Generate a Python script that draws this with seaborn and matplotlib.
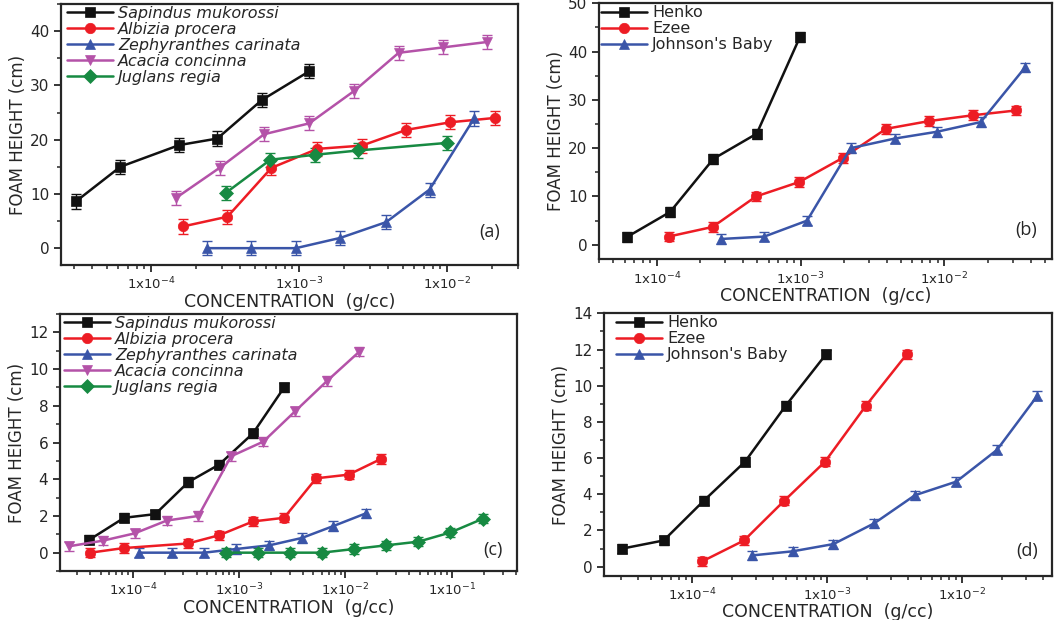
import numpy as np
import pandas as pd
import matplotlib
matplotlib.use("Agg")
import matplotlib.pyplot as plt
import matplotlib.ticker as mticker
import seaborn as sns

# ---- data ----
plants = ["Sapindus mukorossi", "Albizia procera", "Zephyranthes carinata",
          "Acacia concinna", "Juglans regia"]
soaps = ["Henko", "Ezee", "Johnson's Baby"]

# (a) plant extracts
a_sap_x = [3.1e-5, 6.2e-5, 1.55e-4, 2.8e-4, 5.6e-4, 1.17e-3]
a_sap_y = [8.6, 15.0, 19.0, 20.2, 27.3, 32.6]
a_alb_x = [1.64e-4, 3.28e-4, 6.5e-4, 1.33e-3, 2.65e-3, 5.3e-3, 1.05e-2, 2.1e-2]
a_alb_y = [4.0, 5.8, 14.8, 18.3, 18.9, 21.8, 23.2, 24.0]
a_zep_x = [2.38e-4, 4.74e-4, 9.5e-4, 1.9e-3, 3.87e-3, 7.6e-3, 1.52e-2]
a_zep_y = [0.0, 0.0, 0.0, 1.9, 4.8, 10.8, 23.9]
a_aca_x = [1.48e-4, 2.9e-4, 5.8e-4, 1.17e-3, 2.36e-3, 4.7e-3, 9.4e-3, 1.87e-2]
a_aca_y = [9.3, 14.8, 21.0, 23.0, 29.0, 36.0, 37.0, 38.0]
a_jug_x = [3.2e-4, 6.4e-4, 1.27e-3, 2.5e-3, 1.0e-2]
a_jug_y = [10.2, 16.3, 17.2, 18.0, 19.4]

# (b) commercial soaps
b_hen_x = [6.2e-5, 1.24e-4, 2.48e-4, 4.96e-4, 9.9e-4]
b_hen_y = [1.6, 6.8, 17.8, 23.0, 43.0]
b_eze_x = [1.21e-4, 2.45e-4, 4.9e-4, 9.8e-4, 1.97e-3, 3.93e-3, 7.8e-3, 1.57e-2, 3.14e-2]
b_eze_y = [1.7, 3.7, 10.0, 13.0, 18.0, 24.0, 25.6, 26.8, 27.8]
b_joh_x = [2.79e-4, 5.6e-4, 1.11e-3, 2.23e-3, 4.54e-3, 8.9e-3, 1.79e-2, 3.64e-2]
b_joh_y = [1.2, 1.7, 5.0, 20.0, 22.0, 23.4, 25.4, 36.7]

# (c) plant extracts
c_sap_x = [3.9e-5, 8.3e-5, 1.63e-4, 3.34e-4, 6.5e-4, 1.35e-3, 2.65e-3]
c_sap_y = [0.7, 1.9, 2.1, 3.85, 4.8, 6.5, 9.0]
c_alb_x = [4.0e-5, 8.2e-5, 3.3e-4, 6.5e-4, 1.35e-3, 2.65e-3, 5.3e-3, 1.07e-2, 2.15e-2]
c_alb_y = [0.0, 0.25, 0.5, 0.95, 1.7, 1.9, 4.05, 4.25, 5.1]
c_zep_x = [1.15e-4, 2.33e-4, 4.7e-4, 9.4e-4, 1.93e-3, 3.89e-3, 7.7e-3, 1.57e-2]
c_zep_y = [0.0, 0.0, 0.0, 0.2, 0.4, 0.8, 1.45, 2.15]
c_aca_x = [2.53e-5, 5.2e-5, 1.04e-4, 2.09e-4, 4.14e-4, 8.4e-4, 1.69e-3, 3.36e-3, 6.7e-3, 1.35e-2]
c_aca_y = [0.35, 0.65, 1.05, 1.75, 2.0, 5.25, 6.05, 7.7, 9.35, 10.95]
c_jug_x = [7.55e-4, 1.49e-3, 3.0e-3, 6.0e-3, 1.21e-2, 2.42e-2, 4.86e-2, 9.7e-2, 0.196]
c_jug_y = [0.0, 0.0, 0.0, 0.0, 0.2, 0.4, 0.6, 1.1, 1.85]

# (d) commercial soaps
d_hen_x = [3.06e-5, 6.2e-5, 1.23e-4, 2.48e-4, 4.97e-4, 9.9e-4]
d_hen_y = [1.0, 1.45, 3.65, 5.8, 8.9, 11.75]
d_eze_x = [1.2e-4, 2.44e-4, 4.85e-4, 9.7e-4, 1.95e-3, 3.92e-3]
d_eze_y = [0.3, 1.45, 3.65, 5.8, 8.9, 11.75]
d_joh_x = [2.78e-4, 5.6e-4, 1.12e-3, 2.25e-3, 4.5e-3, 9.1e-3, 1.82e-2, 3.63e-2]
d_joh_y = [0.62, 0.85, 1.25, 2.4, 3.95, 4.7, 6.45, 9.45]

# approximate error bar half-widths per panel
err_a, err_b, err_c, err_d = 1.3, 1.0, 0.25, 0.25

colors = ["#111111", "#ed1c24", "#3a55a8", "#b452a8", "#178a42"]
markers = ["s", "o", "^", "v", "D"]

sns.set_style("ticks")
plt.rcParams["font.family"] = ["DejaVu Sans"]
plt.rcParams["mathtext.fontset"] = "dejavusans"


def make_df(names, xs, ys):
    rows = []
    for n, x, y in zip(names, xs, ys):
        for xi, yi in zip(x, y):
            rows.append({"series": n, "conc": xi, "foam": yi})
    return pd.DataFrame(rows)


def panel(ax, names, xs, ys, err, xlim, ylim, ymaj, ymin, decades, tag, tagpos,
          italic, legx):
    df = make_df(names, xs, ys)
    pal = dict(zip(names, colors))
    mk = dict(zip(names, markers))
    sns.lineplot(data=df, x="conc", y="foam", hue="series", style="series",
                 hue_order=names, style_order=names, palette=pal, markers=mk,
                 dashes=False, sort=False, estimator=None, linewidth=1.8,
                 markersize=7.5, ax=ax, zorder=3)
    for ln in ax.lines:
        ln.set_markeredgecolor(ln.get_color())
        ln.set_markeredgewidth(0.5)
    # error bars drawn after so their caps keep their own colour
    for n, x, y in zip(names, xs, ys):
        ax.errorbar(x, y, yerr=err, fmt="none", ecolor=pal[n], elinewidth=1.0,
                    capsize=3.5, capthick=1.0, zorder=2)
    ax.set_xscale("log")
    ax.set_xlim(*xlim)
    ax.set_ylim(*ylim)
    ax.xaxis.set_major_locator(mticker.FixedLocator(decades))
    ax.xaxis.set_major_formatter(mticker.FuncFormatter(
        lambda v, _: r"1x10$^{%d}$" % round(np.log10(v))))
    ax.xaxis.set_minor_locator(mticker.LogLocator(base=10, subs=np.arange(2, 10)))
    ax.xaxis.set_minor_formatter(mticker.NullFormatter())
    ax.yaxis.set_major_locator(mticker.MultipleLocator(ymaj))
    ax.yaxis.set_minor_locator(mticker.MultipleLocator(ymin))
    ax.tick_params(which="major", direction="out", length=5, width=1.3, labelsize=11)
    ax.tick_params(which="minor", direction="out", length=3, width=1.1)
    ax.tick_params(axis="x", labelsize=9.5, pad=3)
    for s in ax.spines.values():
        s.set_linewidth(1.6)
        s.set_visible(True)
    ax.set_xlabel("CONCENTRATION  (g/cc)", fontsize=12.5, labelpad=0)
    ax.set_ylabel("FOAM HEIGHT (cm)", fontsize=12, labelpad=2)
    h_px = ax.get_position().height * 620
    w_px = ax.get_position().width * 1060
    leg = ax.legend(loc="upper left", frameon=False, fontsize=11.5,
                    handlelength=2.9, handletextpad=0.3, labelspacing=0.06,
                    borderaxespad=0, borderpad=0,
                    bbox_to_anchor=(legx / w_px, 1 - 2 / h_px))
    for h in leg.legend_handles:
        h.set_markeredgecolor(h.get_color())
        h.set_markeredgewidth(0.5)
        h.set_markersize(7.5)
    if italic:
        for t in leg.get_texts():
            t.set_fontstyle("italic")
    ax.text(tagpos[0], tagpos[1], tag, transform=ax.transAxes, ha="right",
            va="center", fontsize=13, family="Open Sans")


fig = plt.figure(figsize=(10.6, 6.2), dpi=100)
ax_a = fig.add_axes([0.0575, 0.5726, 0.431, 0.421])
ax_b = fig.add_axes([0.5654, 0.5818, 0.427, 0.413])
ax_c = fig.add_axes([0.0566, 0.079, 0.4309, 0.4145])
ax_d = fig.add_axes([0.5698, 0.0714, 0.4226, 0.4232])

panel(ax_a, plants,
      [a_sap_x, a_alb_x, a_zep_x, a_aca_x, a_jug_x],
      [a_sap_y, a_alb_y, a_zep_y, a_aca_y, a_jug_y],
      err_a, (2.46e-5, 3.0e-2), (-3.1, 45), 10, 5, [1e-4, 1e-3, 1e-2],
      "(a)", (0.96, 0.126), True, 6)
panel(ax_b, soaps,
      [b_hen_x, b_eze_x, b_joh_x],
      [b_hen_y, b_eze_y, b_joh_y],
      err_b, (3.99e-5, 5.6e-2), (-3, 50), 10, 5, [1e-4, 1e-3, 1e-2],
      "(b)", (0.966, 0.114), False, 1.5)
panel(ax_c, plants,
      [c_sap_x, c_alb_x, c_zep_x, c_aca_x, c_jug_x],
      [c_sap_y, c_alb_y, c_zep_y, c_aca_y, c_jug_y],
      err_c, (2.07e-5, 0.408), (-1, 13), 2, 1, [1e-4, 1e-3, 1e-2, 1e-1],
      "(c)", (0.969, 0.082), True, 4)
panel(ax_d, soaps,
      [d_hen_x, d_eze_x, d_joh_x],
      [d_hen_y, d_eze_y, d_joh_y],
      err_d, (2.24e-5, 4.65e-2), (-0.5, 14), 2, 1, [1e-4, 1e-3, 1e-2],
      "(d)", (0.969, 0.095), False, 12)

fig.savefig("out.png", dpi=100)
